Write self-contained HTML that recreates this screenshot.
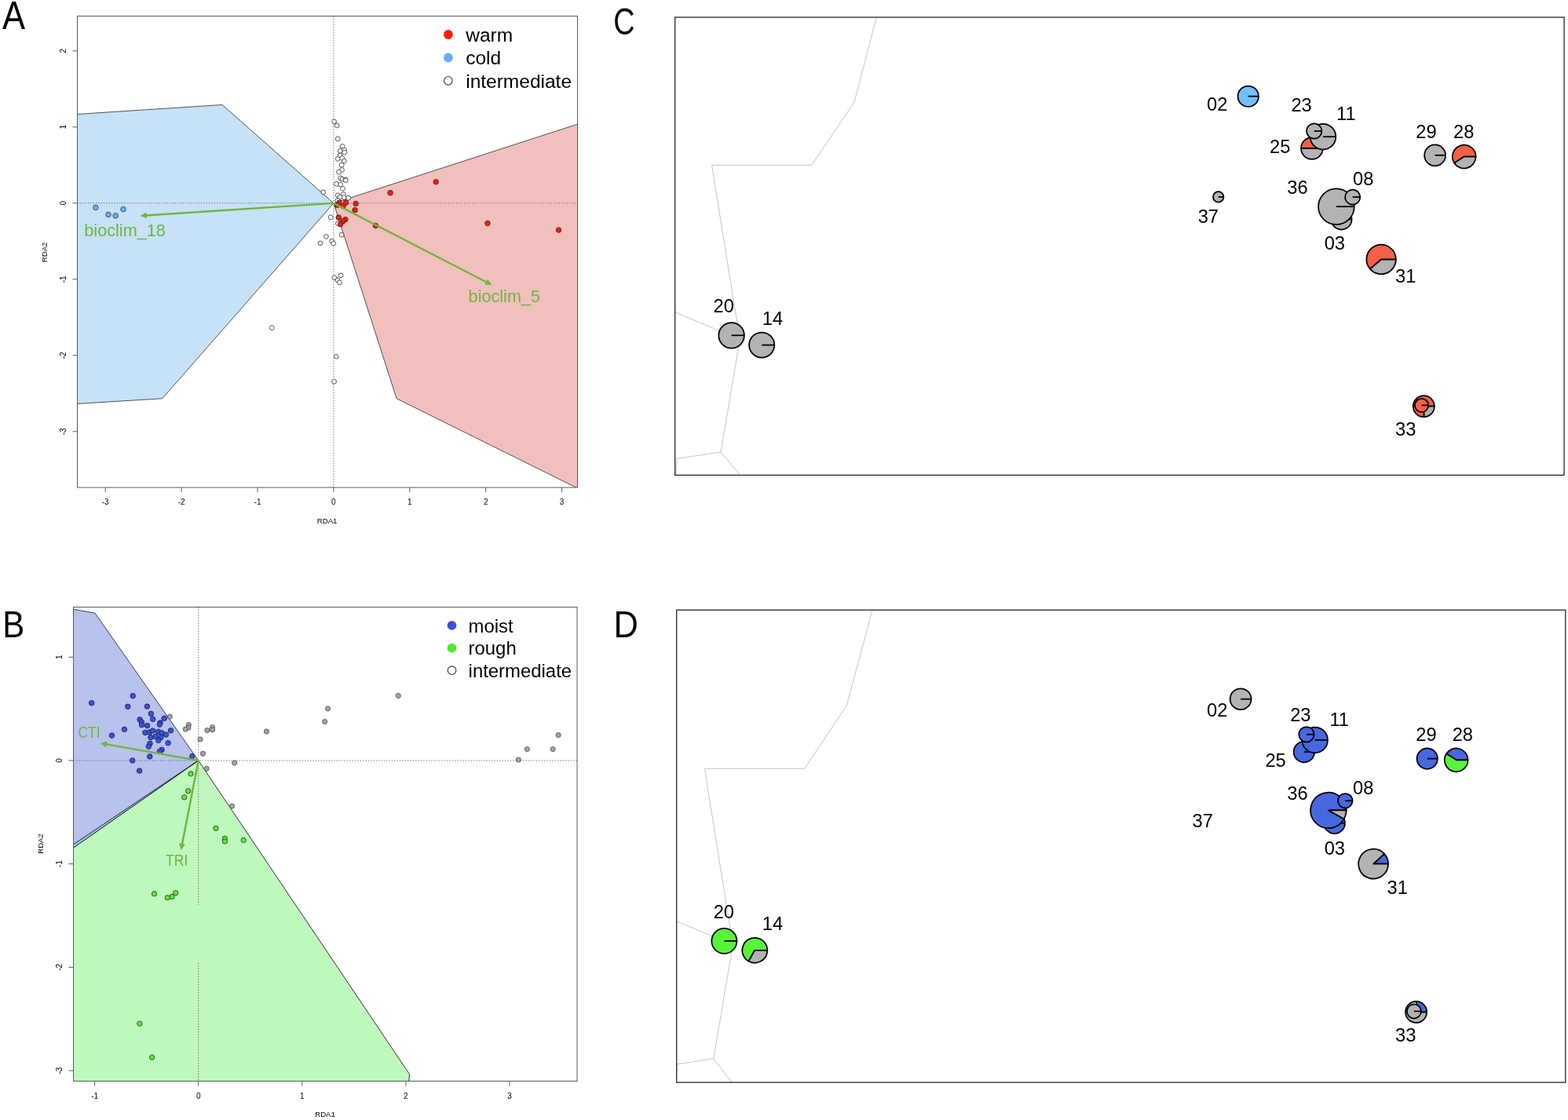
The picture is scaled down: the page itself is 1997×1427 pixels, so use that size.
<!DOCTYPE html>
<html><head><meta charset="utf-8"><title>Figure</title>
<style>
html,body{margin:0;padding:0;background:#fff;}
svg{display:block;}
text{font-family:'Liberation Sans', Arial, Helvetica, sans-serif;}
</style></head>
<body>
<svg width="1997" height="1427" viewBox="0 0 1997 1427">
<rect x="0" y="0" width="1997" height="1427" fill="#fff"/>
<clipPath id="clipA"><rect x="98.5" y="20.5" width="637" height="600.6"/></clipPath>
<g clip-path="url(#clipA)">
<polygon points="40,149.3 283,133.5 424.9,258.9 206.7,507.8 40,518" fill="#c7e2f6" stroke="#2a2a2a" stroke-width="0.8"/>
<polygon points="424.9,258.9 800,137.3 800,654 505.1,507.8" fill="#f1c0bd" stroke="#2a2a2a" stroke-width="0.8"/>
<line x1="98.5" y1="258.8" x2="735.5" y2="258.8" stroke="#6e6e6e" stroke-width="1" stroke-dasharray="1.4,1.95"/>
<line x1="424.9" y1="20.5" x2="424.9" y2="621.1" stroke="#6e6e6e" stroke-width="1" stroke-dasharray="1.4,1.95"/>
<circle cx="425.6" cy="154.9" r="2.9" fill="#fff" stroke="#3a3a3a" stroke-width="0.85"/>
<circle cx="429.2" cy="159.9" r="2.9" fill="#fff" stroke="#3a3a3a" stroke-width="0.85"/>
<circle cx="430.2" cy="176.9" r="2.9" fill="#fff" stroke="#3a3a3a" stroke-width="0.85"/>
<circle cx="436.1" cy="186.4" r="2.9" fill="#fff" stroke="#3a3a3a" stroke-width="0.85"/>
<circle cx="433.3" cy="192.3" r="2.9" fill="#fff" stroke="#3a3a3a" stroke-width="0.85"/>
<circle cx="438.6" cy="191.1" r="2.9" fill="#fff" stroke="#3a3a3a" stroke-width="0.85"/>
<circle cx="438.8" cy="194.2" r="2.9" fill="#fff" stroke="#3a3a3a" stroke-width="0.85"/>
<circle cx="433" cy="198" r="2.9" fill="#fff" stroke="#3a3a3a" stroke-width="0.85"/>
<circle cx="430.2" cy="202.4" r="2.9" fill="#fff" stroke="#3a3a3a" stroke-width="0.85"/>
<circle cx="435.7" cy="201.5" r="2.9" fill="#fff" stroke="#3a3a3a" stroke-width="0.85"/>
<circle cx="438.3" cy="205.2" r="2.9" fill="#fff" stroke="#3a3a3a" stroke-width="0.85"/>
<circle cx="435.2" cy="210.2" r="2.9" fill="#fff" stroke="#3a3a3a" stroke-width="0.85"/>
<circle cx="435.5" cy="216.5" r="2.9" fill="#fff" stroke="#3a3a3a" stroke-width="0.85"/>
<circle cx="431.5" cy="219.1" r="2.9" fill="#fff" stroke="#3a3a3a" stroke-width="0.85"/>
<circle cx="433.6" cy="226.8" r="2.9" fill="#fff" stroke="#3a3a3a" stroke-width="0.85"/>
<circle cx="436.1" cy="228.3" r="2.9" fill="#fff" stroke="#3a3a3a" stroke-width="0.85"/>
<circle cx="439.9" cy="228.9" r="2.9" fill="#fff" stroke="#3a3a3a" stroke-width="0.85"/>
<circle cx="440.2" cy="229.8" r="2.9" fill="#fff" stroke="#3a3a3a" stroke-width="0.85"/>
<circle cx="428.5" cy="234.3" r="2.9" fill="#fff" stroke="#3a3a3a" stroke-width="0.85"/>
<circle cx="433.6" cy="235.2" r="2.9" fill="#fff" stroke="#3a3a3a" stroke-width="0.85"/>
<circle cx="436.5" cy="240.3" r="2.9" fill="#fff" stroke="#3a3a3a" stroke-width="0.85"/>
<circle cx="430.2" cy="248.7" r="2.9" fill="#fff" stroke="#3a3a3a" stroke-width="0.85"/>
<circle cx="437.4" cy="247.6" r="2.9" fill="#fff" stroke="#3a3a3a" stroke-width="0.85"/>
<circle cx="438" cy="251.6" r="2.9" fill="#fff" stroke="#3a3a3a" stroke-width="0.85"/>
<circle cx="443.7" cy="252.2" r="2.9" fill="#fff" stroke="#3a3a3a" stroke-width="0.85"/>
<circle cx="433" cy="251" r="2.9" fill="#fff" stroke="#3a3a3a" stroke-width="0.85"/>
<circle cx="411.8" cy="244.9" r="2.9" fill="#fff" stroke="#3a3a3a" stroke-width="0.85"/>
<circle cx="421.2" cy="276.8" r="2.9" fill="#fff" stroke="#3a3a3a" stroke-width="0.85"/>
<circle cx="430.4" cy="284.8" r="2.9" fill="#fff" stroke="#3a3a3a" stroke-width="0.85"/>
<circle cx="435.1" cy="299.1" r="2.9" fill="#fff" stroke="#3a3a3a" stroke-width="0.85"/>
<circle cx="415.4" cy="301.4" r="2.9" fill="#fff" stroke="#3a3a3a" stroke-width="0.85"/>
<circle cx="408" cy="309.9" r="2.9" fill="#fff" stroke="#3a3a3a" stroke-width="0.85"/>
<circle cx="422.6" cy="307.1" r="2.9" fill="#fff" stroke="#3a3a3a" stroke-width="0.85"/>
<circle cx="424.8" cy="310.2" r="2.9" fill="#fff" stroke="#3a3a3a" stroke-width="0.85"/>
<circle cx="430" cy="255.5" r="2.9" fill="#fff" stroke="#3a3a3a" stroke-width="0.85"/>
<circle cx="425.9" cy="353.8" r="2.9" fill="#fff" stroke="#3a3a3a" stroke-width="0.85"/>
<circle cx="434" cy="350.8" r="2.9" fill="#fff" stroke="#3a3a3a" stroke-width="0.85"/>
<circle cx="430" cy="357" r="2.9" fill="#fff" stroke="#3a3a3a" stroke-width="0.85"/>
<circle cx="432.5" cy="359.9" r="2.9" fill="#fff" stroke="#3a3a3a" stroke-width="0.85"/>
<circle cx="428.3" cy="454.3" r="2.9" fill="#fff" stroke="#3a3a3a" stroke-width="0.85"/>
<circle cx="425.6" cy="486.2" r="2.9" fill="#fff" stroke="#3a3a3a" stroke-width="0.85"/>
<circle cx="346.3" cy="417.6" r="2.9" fill="#fff" stroke="#3a3a3a" stroke-width="0.85"/>
<circle cx="432.1" cy="258.3" r="3.3" fill="#f41d0f" stroke="#3a2020" stroke-width="0.8"/>
<circle cx="440.5" cy="258.2" r="3.3" fill="#f41d0f" stroke="#3a2020" stroke-width="0.8"/>
<circle cx="437" cy="262.6" r="3.3" fill="#f41d0f" stroke="#3a2020" stroke-width="0.8"/>
<circle cx="429.2" cy="261.3" r="3.3" fill="#f41d0f" stroke="#3a2020" stroke-width="0.8"/>
<circle cx="453.1" cy="259.5" r="3.3" fill="#f41d0f" stroke="#3a2020" stroke-width="0.8"/>
<circle cx="452.1" cy="267.7" r="3.3" fill="#f41d0f" stroke="#3a2020" stroke-width="0.8"/>
<circle cx="431.2" cy="277.1" r="3.3" fill="#f41d0f" stroke="#3a2020" stroke-width="0.8"/>
<circle cx="439.9" cy="279.7" r="3.3" fill="#f41d0f" stroke="#3a2020" stroke-width="0.8"/>
<circle cx="436.7" cy="281.9" r="3.3" fill="#f41d0f" stroke="#3a2020" stroke-width="0.8"/>
<circle cx="433.6" cy="285.7" r="3.3" fill="#f41d0f" stroke="#3a2020" stroke-width="0.8"/>
<circle cx="478.4" cy="287.5" r="3.3" fill="#f41d0f" stroke="#3a2020" stroke-width="0.8"/>
<circle cx="497.1" cy="245.7" r="3.3" fill="#f41d0f" stroke="#3a2020" stroke-width="0.8"/>
<circle cx="555.2" cy="231.8" r="3.3" fill="#f41d0f" stroke="#3a2020" stroke-width="0.8"/>
<circle cx="621" cy="284.5" r="3.3" fill="#f41d0f" stroke="#3a2020" stroke-width="0.8"/>
<circle cx="711.5" cy="293.1" r="3.3" fill="#f41d0f" stroke="#3a2020" stroke-width="0.8"/>
<circle cx="121.9" cy="264.4" r="3.3" fill="#69acf5" stroke="#2a3a5a" stroke-width="0.8"/>
<circle cx="138" cy="273.4" r="3.3" fill="#69acf5" stroke="#2a3a5a" stroke-width="0.8"/>
<circle cx="147.2" cy="274.9" r="3.3" fill="#69acf5" stroke="#2a3a5a" stroke-width="0.8"/>
<circle cx="157" cy="266.6" r="3.3" fill="#69acf5" stroke="#2a3a5a" stroke-width="0.8"/>
</g>
<line x1="424.9" y1="258.9" x2="185.68" y2="274.43" stroke="#6fb540" stroke-width="2.4"/><polygon points="178.5,274.9 186.43,270.48 186.94,278.26" fill="#6fb540"/>
<line x1="424.9" y1="258.9" x2="620.1" y2="359.79" stroke="#6fb540" stroke-width="2.4"/><polygon points="626.5,363.1 617.42,362.8 621.01,355.87" fill="#6fb540"/>
<text transform="translate(107.29,300.65) scale(1.0107,1)" font-size="21.45" fill="#6fb540">bioclim_18</text>
<text transform="translate(596.59,384.65) scale(1.0100,1)" font-size="21.45" fill="#6fb540">bioclim_5</text>
<circle cx="570.9" cy="44.0" r="5.9" fill="#ff1c0a"/>
<circle cx="570.9" cy="73.5" r="5.9" fill="#69acff"/>
<circle cx="570.8" cy="102.8" r="5.3" fill="none" stroke="#333" stroke-width="1.1"/>
<text x="593.2" y="52.8" font-size="24.5">warm</text>
<text x="593.2" y="82.2" font-size="24.5">cold</text>
<text x="593.2" y="111.7" font-size="24.5">intermediate</text>
<rect x="98.5" y="20.5" width="637" height="600.6" fill="none" stroke="#5a5a5a" stroke-width="1"/>
<line x1="134.2" y1="621.1" x2="134.2" y2="627.1" stroke="#5a5a5a" stroke-width="1"/>
<text x="134.2" y="643.2" font-size="10" text-anchor="middle">-3</text>
<line x1="231.1" y1="621.1" x2="231.1" y2="627.1" stroke="#5a5a5a" stroke-width="1"/>
<text x="231.1" y="643.2" font-size="10" text-anchor="middle">-2</text>
<line x1="328" y1="621.1" x2="328" y2="627.1" stroke="#5a5a5a" stroke-width="1"/>
<text x="328" y="643.2" font-size="10" text-anchor="middle">-1</text>
<line x1="424.9" y1="621.1" x2="424.9" y2="627.1" stroke="#5a5a5a" stroke-width="1"/>
<text x="424.9" y="643.2" font-size="10" text-anchor="middle">0</text>
<line x1="521.8" y1="621.1" x2="521.8" y2="627.1" stroke="#5a5a5a" stroke-width="1"/>
<text x="521.8" y="643.2" font-size="10" text-anchor="middle">1</text>
<line x1="618.7" y1="621.1" x2="618.7" y2="627.1" stroke="#5a5a5a" stroke-width="1"/>
<text x="618.7" y="643.2" font-size="10" text-anchor="middle">2</text>
<line x1="715.6" y1="621.1" x2="715.6" y2="627.1" stroke="#5a5a5a" stroke-width="1"/>
<text x="715.6" y="643.2" font-size="10" text-anchor="middle">3</text>
<line x1="92.5" y1="549.8" x2="98.5" y2="549.8" stroke="#5a5a5a" stroke-width="1"/>
<text transform="translate(84.1,549.8) rotate(-90)" font-size="10" text-anchor="middle">-3</text>
<line x1="92.5" y1="452.8" x2="98.5" y2="452.8" stroke="#5a5a5a" stroke-width="1"/>
<text transform="translate(84.1,452.8) rotate(-90)" font-size="10" text-anchor="middle">-2</text>
<line x1="92.5" y1="355.8" x2="98.5" y2="355.8" stroke="#5a5a5a" stroke-width="1"/>
<text transform="translate(84.1,355.8) rotate(-90)" font-size="10" text-anchor="middle">-1</text>
<line x1="92.5" y1="258.8" x2="98.5" y2="258.8" stroke="#5a5a5a" stroke-width="1"/>
<text transform="translate(84.1,258.8) rotate(-90)" font-size="10" text-anchor="middle">0</text>
<line x1="92.5" y1="161.8" x2="98.5" y2="161.8" stroke="#5a5a5a" stroke-width="1"/>
<text transform="translate(84.1,161.8) rotate(-90)" font-size="10" text-anchor="middle">1</text>
<line x1="92.5" y1="64.8" x2="98.5" y2="64.8" stroke="#5a5a5a" stroke-width="1"/>
<text transform="translate(84.1,64.8) rotate(-90)" font-size="10" text-anchor="middle">2</text>
<text x="416.6" y="667.2" font-size="9.6" text-anchor="middle">RDA1</text>
<text transform="translate(60.1,321.4) rotate(-90)" font-size="9.6" text-anchor="middle">RDA2</text>
<clipPath id="clipB"><rect x="93.5" y="773.5" width="641.5" height="604"/></clipPath>
<g clip-path="url(#clipB)">
<polygon points="40,766.8 120.9,781.1 252.7,969 40,1112" fill="#b8c2ed" stroke="#1e2a60" stroke-width="0.9"/>
<polygon points="252.7,969 521.5,1368.6 519,1400 40,1400 40,1117.4" fill="#bff8bd" stroke="#1a1a1a" stroke-width="0.9"/>
<polygon points="252.7,969 40,1112 40,1117.4" fill="#9bd0d3" stroke="none"/>
<line x1="252.7" y1="969" x2="40" y2="1112.0" stroke="#1e2a60" stroke-width="0.9"/>
<line x1="252.7" y1="969" x2="40" y2="1117.4" stroke="#1a1a1a" stroke-width="0.9"/>
<line x1="93.5" y1="969" x2="735" y2="969" stroke="#6e6e6e" stroke-width="1" stroke-dasharray="1.4,1.95"/>
<line x1="252.7" y1="773.5" x2="252.7" y2="1153" stroke="#6e6e6e" stroke-width="1" stroke-dasharray="1.4,1.95"/>
<line x1="252.7" y1="1227" x2="252.7" y2="1377.5" stroke="#6e6e6e" stroke-width="1" stroke-dasharray="1.4,1.95"/>
<circle cx="417.5" cy="902.8" r="3.1" fill="#a3a3a3" stroke="#4a4a4a" stroke-width="0.8"/>
<circle cx="413.6" cy="919.5" r="3.1" fill="#a3a3a3" stroke="#4a4a4a" stroke-width="0.8"/>
<circle cx="507.3" cy="886.4" r="3.1" fill="#a3a3a3" stroke="#4a4a4a" stroke-width="0.8"/>
<circle cx="660.3" cy="968" r="3.1" fill="#a3a3a3" stroke="#4a4a4a" stroke-width="0.8"/>
<circle cx="671.4" cy="954.5" r="3.1" fill="#a3a3a3" stroke="#4a4a4a" stroke-width="0.8"/>
<circle cx="704.2" cy="954.5" r="3.1" fill="#a3a3a3" stroke="#4a4a4a" stroke-width="0.8"/>
<circle cx="711.1" cy="936.6" r="3.1" fill="#a3a3a3" stroke="#4a4a4a" stroke-width="0.8"/>
<circle cx="216.3" cy="913.1" r="3.1" fill="#a3a3a3" stroke="#4a4a4a" stroke-width="0.8"/>
<circle cx="240.3" cy="923.6" r="3.1" fill="#a3a3a3" stroke="#4a4a4a" stroke-width="0.8"/>
<circle cx="239.9" cy="927.1" r="3.1" fill="#a3a3a3" stroke="#4a4a4a" stroke-width="0.8"/>
<circle cx="236.2" cy="929" r="3.1" fill="#a3a3a3" stroke="#4a4a4a" stroke-width="0.8"/>
<circle cx="270.5" cy="926.6" r="3.1" fill="#a3a3a3" stroke="#4a4a4a" stroke-width="0.8"/>
<circle cx="270.5" cy="929.8" r="3.1" fill="#a3a3a3" stroke="#4a4a4a" stroke-width="0.8"/>
<circle cx="263.9" cy="930.5" r="3.1" fill="#a3a3a3" stroke="#4a4a4a" stroke-width="0.8"/>
<circle cx="339.4" cy="932" r="3.1" fill="#a3a3a3" stroke="#4a4a4a" stroke-width="0.8"/>
<circle cx="255.1" cy="942" r="3.1" fill="#a3a3a3" stroke="#4a4a4a" stroke-width="0.8"/>
<circle cx="258.5" cy="960.2" r="3.1" fill="#a3a3a3" stroke="#4a4a4a" stroke-width="0.8"/>
<circle cx="298.7" cy="972" r="3.1" fill="#a3a3a3" stroke="#4a4a4a" stroke-width="0.8"/>
<circle cx="263.2" cy="979.3" r="3.1" fill="#a3a3a3" stroke="#4a4a4a" stroke-width="0.8"/>
<circle cx="295.5" cy="1027.1" r="3.1" fill="#a3a3a3" stroke="#4a4a4a" stroke-width="0.8"/>
<circle cx="116.7" cy="895.7" r="3.3" fill="#3c50d7" stroke="#1a1f50" stroke-width="0.8"/>
<circle cx="169.2" cy="886.6" r="3.3" fill="#3c50d7" stroke="#1a1f50" stroke-width="0.8"/>
<circle cx="162.8" cy="900.3" r="3.3" fill="#3c50d7" stroke="#1a1f50" stroke-width="0.8"/>
<circle cx="187.4" cy="900.1" r="3.3" fill="#3c50d7" stroke="#1a1f50" stroke-width="0.8"/>
<circle cx="192.3" cy="909.4" r="3.3" fill="#3c50d7" stroke="#1a1f50" stroke-width="0.8"/>
<circle cx="194.7" cy="916.3" r="3.3" fill="#3c50d7" stroke="#1a1f50" stroke-width="0.8"/>
<circle cx="209.2" cy="915.3" r="3.3" fill="#3c50d7" stroke="#1a1f50" stroke-width="0.8"/>
<circle cx="178.1" cy="916.8" r="3.3" fill="#3c50d7" stroke="#1a1f50" stroke-width="0.8"/>
<circle cx="180.3" cy="920" r="3.3" fill="#3c50d7" stroke="#1a1f50" stroke-width="0.8"/>
<circle cx="180.5" cy="923.6" r="3.3" fill="#3c50d7" stroke="#1a1f50" stroke-width="0.8"/>
<circle cx="187.6" cy="924.6" r="3.3" fill="#3c50d7" stroke="#1a1f50" stroke-width="0.8"/>
<circle cx="204" cy="920.9" r="3.3" fill="#3c50d7" stroke="#1a1f50" stroke-width="0.8"/>
<circle cx="203.3" cy="923.1" r="3.3" fill="#3c50d7" stroke="#1a1f50" stroke-width="0.8"/>
<circle cx="217.5" cy="930.7" r="3.3" fill="#3c50d7" stroke="#1a1f50" stroke-width="0.8"/>
<circle cx="158.4" cy="929.3" r="3.3" fill="#3c50d7" stroke="#1a1f50" stroke-width="0.8"/>
<circle cx="142.5" cy="937.1" r="3.3" fill="#3c50d7" stroke="#1a1f50" stroke-width="0.8"/>
<circle cx="184.9" cy="933.4" r="3.3" fill="#3c50d7" stroke="#1a1f50" stroke-width="0.8"/>
<circle cx="190.3" cy="933" r="3.3" fill="#3c50d7" stroke="#1a1f50" stroke-width="0.8"/>
<circle cx="194.5" cy="931" r="3.3" fill="#3c50d7" stroke="#1a1f50" stroke-width="0.8"/>
<circle cx="201.6" cy="932.2" r="3.3" fill="#3c50d7" stroke="#1a1f50" stroke-width="0.8"/>
<circle cx="206" cy="933.9" r="3.3" fill="#3c50d7" stroke="#1a1f50" stroke-width="0.8"/>
<circle cx="211.4" cy="936.1" r="3.3" fill="#3c50d7" stroke="#1a1f50" stroke-width="0.8"/>
<circle cx="192" cy="939.6" r="3.3" fill="#3c50d7" stroke="#1a1f50" stroke-width="0.8"/>
<circle cx="198.2" cy="938.4" r="3.3" fill="#3c50d7" stroke="#1a1f50" stroke-width="0.8"/>
<circle cx="204.8" cy="939.6" r="3.3" fill="#3c50d7" stroke="#1a1f50" stroke-width="0.8"/>
<circle cx="201.8" cy="943.3" r="3.3" fill="#3c50d7" stroke="#1a1f50" stroke-width="0.8"/>
<circle cx="214.1" cy="946.7" r="3.3" fill="#3c50d7" stroke="#1a1f50" stroke-width="0.8"/>
<circle cx="191" cy="947.4" r="3.3" fill="#3c50d7" stroke="#1a1f50" stroke-width="0.8"/>
<circle cx="189.3" cy="951.1" r="3.3" fill="#3c50d7" stroke="#1a1f50" stroke-width="0.8"/>
<circle cx="206" cy="955.3" r="3.3" fill="#3c50d7" stroke="#1a1f50" stroke-width="0.8"/>
<circle cx="203.3" cy="957.5" r="3.3" fill="#3c50d7" stroke="#1a1f50" stroke-width="0.8"/>
<circle cx="190.8" cy="963.9" r="3.3" fill="#3c50d7" stroke="#1a1f50" stroke-width="0.8"/>
<circle cx="244.8" cy="963.6" r="3.3" fill="#3c50d7" stroke="#1a1f50" stroke-width="0.8"/>
<circle cx="168.7" cy="969" r="3.3" fill="#3c50d7" stroke="#1a1f50" stroke-width="0.8"/>
<circle cx="177.6" cy="982" r="3.3" fill="#3c50d7" stroke="#1a1f50" stroke-width="0.8"/>
<circle cx="243" cy="985.9" r="3.2" fill="#58e83a" stroke="#1e3a1a" stroke-width="0.8"/>
<circle cx="239.6" cy="1007.8" r="3.2" fill="#58e83a" stroke="#1e3a1a" stroke-width="0.8"/>
<circle cx="234.7" cy="1015.9" r="3.2" fill="#58e83a" stroke="#1e3a1a" stroke-width="0.8"/>
<circle cx="274.9" cy="1055.3" r="3.2" fill="#58e83a" stroke="#1e3a1a" stroke-width="0.8"/>
<circle cx="286.4" cy="1068.3" r="3.2" fill="#58e83a" stroke="#1e3a1a" stroke-width="0.8"/>
<circle cx="286.4" cy="1072" r="3.2" fill="#58e83a" stroke="#1e3a1a" stroke-width="0.8"/>
<circle cx="310.2" cy="1070.5" r="3.2" fill="#58e83a" stroke="#1e3a1a" stroke-width="0.8"/>
<circle cx="196.5" cy="1138.8" r="3.2" fill="#58e83a" stroke="#1e3a1a" stroke-width="0.8"/>
<circle cx="213.3" cy="1143.7" r="3.2" fill="#58e83a" stroke="#1e3a1a" stroke-width="0.8"/>
<circle cx="219.1" cy="1142.5" r="3.2" fill="#58e83a" stroke="#1e3a1a" stroke-width="0.8"/>
<circle cx="223.7" cy="1137.6" r="3.2" fill="#58e83a" stroke="#1e3a1a" stroke-width="0.8"/>
<circle cx="177.8" cy="1304.2" r="3.2" fill="#58e83a" stroke="#1e3a1a" stroke-width="0.8"/>
<circle cx="193.6" cy="1347.2" r="3.2" fill="#58e83a" stroke="#1e3a1a" stroke-width="0.8"/>
</g>
<line x1="252.7" y1="969" x2="134.89" y2="948.15" stroke="#6fb540" stroke-width="2.4"/><polygon points="127.8,946.9 136.55,944.49 135.2,952.17" fill="#6fb540"/>
<line x1="252.7" y1="969" x2="231.88" y2="1075.93" stroke="#6fb540" stroke-width="2.4"/><polygon points="230.5,1083 228.24,1074.21 235.9,1075.7" fill="#6fb540"/>
<text transform="translate(99.41,939.7) scale(0.8634,1)" font-size="20.2" fill="#6fb540">CTI</text>
<text transform="translate(211.01,1102.6) scale(0.8759,1)" font-size="20.06" fill="#6fb540">TRI</text>
<circle cx="575.5" cy="796.9" r="5.9" fill="#3c50d7"/>
<circle cx="575.5" cy="825.7" r="5.9" fill="#50e82d"/>
<circle cx="575.5" cy="854.2" r="5.3" fill="none" stroke="#333" stroke-width="1.1"/>
<text x="596.6" y="805.9" font-size="23.9">moist</text>
<text x="596.6" y="834.3" font-size="23.9">rough</text>
<text x="596.6" y="863.1" font-size="23.9">intermediate</text>
<rect x="93.5" y="773.5" width="641.5" height="604" fill="none" stroke="#5a5a5a" stroke-width="1"/>
<line x1="120.6" y1="1377.5" x2="120.6" y2="1383.5" stroke="#5a5a5a" stroke-width="1"/>
<text x="120.6" y="1399.8" font-size="10" text-anchor="middle">-1</text>
<line x1="252.7" y1="1377.5" x2="252.7" y2="1383.5" stroke="#5a5a5a" stroke-width="1"/>
<text x="252.7" y="1399.8" font-size="10" text-anchor="middle">0</text>
<line x1="384.8" y1="1377.5" x2="384.8" y2="1383.5" stroke="#5a5a5a" stroke-width="1"/>
<text x="384.8" y="1399.8" font-size="10" text-anchor="middle">1</text>
<line x1="516.9" y1="1377.5" x2="516.9" y2="1383.5" stroke="#5a5a5a" stroke-width="1"/>
<text x="516.9" y="1399.8" font-size="10" text-anchor="middle">2</text>
<line x1="649" y1="1377.5" x2="649" y2="1383.5" stroke="#5a5a5a" stroke-width="1"/>
<text x="649" y="1399.8" font-size="10" text-anchor="middle">3</text>
<line x1="87.5" y1="1364.1" x2="93.5" y2="1364.1" stroke="#5a5a5a" stroke-width="1"/>
<text transform="translate(79,1364.1) rotate(-90)" font-size="10" text-anchor="middle">-3</text>
<line x1="87.5" y1="1232.4" x2="93.5" y2="1232.4" stroke="#5a5a5a" stroke-width="1"/>
<text transform="translate(79,1232.4) rotate(-90)" font-size="10" text-anchor="middle">-2</text>
<line x1="87.5" y1="1100.7" x2="93.5" y2="1100.7" stroke="#5a5a5a" stroke-width="1"/>
<text transform="translate(79,1100.7) rotate(-90)" font-size="10" text-anchor="middle">-1</text>
<line x1="87.5" y1="969" x2="93.5" y2="969" stroke="#5a5a5a" stroke-width="1"/>
<text transform="translate(79,969) rotate(-90)" font-size="10" text-anchor="middle">0</text>
<line x1="87.5" y1="837.3" x2="93.5" y2="837.3" stroke="#5a5a5a" stroke-width="1"/>
<text transform="translate(79,837.3) rotate(-90)" font-size="10" text-anchor="middle">1</text>
<text x="414" y="1423.3" font-size="9.6" text-anchor="middle">RDA1</text>
<text transform="translate(54.5,1075) rotate(-90)" font-size="9.6" text-anchor="middle">RDA2</text>
<clipPath id="clipC"><rect x="859.7" y="22" width="1132.4" height="583.4"/></clipPath>
<g clip-path="url(#clipC)" fill="none" stroke="#c4c4c4" stroke-width="1">
<polyline points="1116.8,20 1088,130.2 1033.7,210.3 906.5,210.3 942.3,432.6 918,576 862.1,584.3 860.5,610"/>
<polyline points="918,576 946.5,610"/>
<polyline points="855,395.7 942.3,432.6"/>
</g>
<rect x="859.7" y="22" width="1132.4" height="583.4" fill="none" stroke="#1e1e1e" stroke-width="1.25"/>
<circle cx="1589.7" cy="122.7" r="13.2" fill="#74bffb" stroke="#000" stroke-width="1.75"/><line x1="1589.7" y1="122.7" x2="1602.9" y2="122.7" stroke="#000" stroke-width="1.75"/>
<path d="M1670.9,189 L1684.75,189 A13.85,13.85 0 0 0 1657.05,189 Z" fill="#f45f48" stroke="#000" stroke-width="1.75" stroke-linejoin="round"/><path d="M1670.9,189 L1657.05,189 A13.85,13.85 0 0 0 1684.75,189 Z" fill="#b3b3b3" stroke="#000" stroke-width="1.75" stroke-linejoin="round"/>
<circle cx="1685" cy="174.2" r="16.3" fill="#b3b3b3" stroke="#000" stroke-width="1.75"/><line x1="1685" y1="174.2" x2="1701.3" y2="174.2" stroke="#000" stroke-width="1.75"/>
<circle cx="1673.7" cy="167" r="9.65" fill="#b3b3b3" stroke="#000" stroke-width="1.75"/><line x1="1673.7" y1="167" x2="1683.35" y2="167" stroke="#000" stroke-width="1.75"/>
<circle cx="1551.7" cy="250.9" r="6.7" fill="#b3b3b3" stroke="#000" stroke-width="1.75"/><line x1="1551.7" y1="250.9" x2="1558.4" y2="250.9" stroke="#000" stroke-width="1.75"/>
<circle cx="1708.5" cy="279.5" r="13.05" fill="#b3b3b3" stroke="#000" stroke-width="1.75"/><line x1="1708.5" y1="279.5" x2="1721.55" y2="279.5" stroke="#000" stroke-width="1.75"/>
<circle cx="1701.9" cy="263.2" r="22.85" fill="#b3b3b3" stroke="#000" stroke-width="1.75"/><line x1="1701.9" y1="263.2" x2="1724.75" y2="263.2" stroke="#000" stroke-width="1.75"/>
<circle cx="1722.7" cy="251.1" r="9.55" fill="#b3b3b3" stroke="#000" stroke-width="1.75"/><line x1="1722.7" y1="251.1" x2="1732.25" y2="251.1" stroke="#000" stroke-width="1.75"/>
<circle cx="1827.6" cy="197.8" r="13.45" fill="#b3b3b3" stroke="#000" stroke-width="1.75"/><line x1="1827.6" y1="197.8" x2="1841.05" y2="197.8" stroke="#000" stroke-width="1.75"/>
<path d="M1864.7,199.6 L1879.6,199.6 A14.9,14.9 0 1 0 1852.2,207.72 Z" fill="#f45f48" stroke="#000" stroke-width="1.75" stroke-linejoin="round"/><path d="M1864.7,199.6 L1852.2,207.72 A14.9,14.9 0 0 0 1879.6,199.6 Z" fill="#b3b3b3" stroke="#000" stroke-width="1.75" stroke-linejoin="round"/>
<path d="M1759.1,330.5 L1777.85,330.5 A18.75,18.75 0 1 0 1744.88,342.73 Z" fill="#f45f48" stroke="#000" stroke-width="1.75" stroke-linejoin="round"/><path d="M1759.1,330.5 L1744.88,342.73 A18.75,18.75 0 0 0 1777.85,330.5 Z" fill="#b3b3b3" stroke="#000" stroke-width="1.75" stroke-linejoin="round"/>
<path d="M1813.3,517.7 L1826.85,517.7 A13.55,13.55 0 1 0 1813.77,531.24 Z" fill="#f45f48" stroke="#000" stroke-width="1.75" stroke-linejoin="round"/><path d="M1813.3,517.7 L1813.77,531.24 A13.55,13.55 0 0 0 1826.85,517.7 Z" fill="#b3b3b3" stroke="#000" stroke-width="1.75" stroke-linejoin="round"/>
<circle cx="1810.6" cy="516.4" r="8.65" fill="#f45f48" stroke="#000" stroke-width="1.75"/><line x1="1810.6" y1="516.4" x2="1819.25" y2="516.4" stroke="#000" stroke-width="1.75"/>
<circle cx="931.6" cy="427.3" r="16.3" fill="#b3b3b3" stroke="#000" stroke-width="1.75"/><line x1="931.6" y1="427.3" x2="947.9" y2="427.3" stroke="#000" stroke-width="1.75"/>
<circle cx="970.2" cy="439.6" r="16.1" fill="#b3b3b3" stroke="#000" stroke-width="1.75"/><line x1="970.2" y1="439.6" x2="986.3" y2="439.6" stroke="#000" stroke-width="1.75"/>
<text x="1537.05" y="141.06" font-size="23.7">02</text>
<text x="1644.45" y="142.26" font-size="23.7">23</text>
<text x="1702.08" y="152.9" font-size="23.7">11</text>
<text x="1617.03" y="194.86" font-size="23.7">25</text>
<text x="1639.34" y="246.56" font-size="23.7">36</text>
<text x="1723.02" y="236.06" font-size="23.7">08</text>
<text x="1525.66" y="284.16" font-size="23.7">37</text>
<text x="1686.63" y="318.06" font-size="23.7">03</text>
<text x="1803.34" y="175.96" font-size="23.7">29</text>
<text x="1850.99" y="175.96" font-size="23.7">28</text>
<text x="1777.05" y="359.96" font-size="23.7">31</text>
<text x="1777.04" y="555.06" font-size="23.7">33</text>
<text x="908.59" y="397.96" font-size="23.7">20</text>
<text x="970.72" y="414.4" font-size="23.7">14</text>
<clipPath id="clipD"><rect x="861.7" y="777.2" width="1132.1" height="601.9"/></clipPath>
<g clip-path="url(#clipD)" fill="none" stroke="#c4c4c4" stroke-width="1">
<polyline points="1111.6,775 1078.4,898.7 1024.8,979.2 897.3,979.2 933.3,1203.5 908.9,1348.7 862.1,1356 861.5,1385"/>
<polyline points="908.9,1348.7 936.5,1385"/>
<polyline points="855,1171 933.3,1203.5"/>
</g>
<rect x="861.7" y="777.2" width="1132.1" height="601.9" fill="none" stroke="#1e1e1e" stroke-width="1.25"/>
<circle cx="1580.1" cy="890.7" r="13.45" fill="#b3b3b3" stroke="#000" stroke-width="1.75"/><line x1="1580.1" y1="890.7" x2="1593.55" y2="890.7" stroke="#000" stroke-width="1.75"/>
<circle cx="1660.9" cy="958" r="13.25" fill="#4868e0" stroke="#000" stroke-width="1.75"/><line x1="1660.9" y1="958" x2="1674.15" y2="958" stroke="#000" stroke-width="1.75"/>
<circle cx="1674.7" cy="942.9" r="16.3" fill="#4868e0" stroke="#000" stroke-width="1.75"/><line x1="1674.7" y1="942.9" x2="1691" y2="942.9" stroke="#000" stroke-width="1.75"/>
<circle cx="1663.9" cy="935.8" r="9.65" fill="#4868e0" stroke="#000" stroke-width="1.75"/><line x1="1663.9" y1="935.8" x2="1673.55" y2="935.8" stroke="#000" stroke-width="1.75"/>
<circle cx="1699.6" cy="1048.8" r="13.35" fill="#4868e0" stroke="#000" stroke-width="1.75"/><line x1="1699.6" y1="1048.8" x2="1712.95" y2="1048.8" stroke="#000" stroke-width="1.75"/>
<path d="M1691.9,1032.4 L1714.65,1032.4 A22.75,22.75 0 1 0 1711.8,1043.43 Z" fill="#4868e0" stroke="#000" stroke-width="1.75" stroke-linejoin="round"/><path d="M1691.9,1032.4 L1711.8,1043.43 A22.75,22.75 0 0 0 1714.65,1032.4 Z" fill="#b3b3b3" stroke="#000" stroke-width="1.75" stroke-linejoin="round"/>
<circle cx="1713.3" cy="1020.3" r="9.3" fill="#4868e0" stroke="#000" stroke-width="1.75"/><line x1="1713.3" y1="1020.3" x2="1722.6" y2="1020.3" stroke="#000" stroke-width="1.75"/>
<circle cx="1817.7" cy="966.6" r="13.2" fill="#4868e0" stroke="#000" stroke-width="1.75"/><line x1="1817.7" y1="966.6" x2="1830.9" y2="966.6" stroke="#000" stroke-width="1.75"/>
<path d="M1854.7,968.3 L1869.6,968.3 A14.9,14.9 0 0 0 1842.12,960.32 Z" fill="#4868e0" stroke="#000" stroke-width="1.75" stroke-linejoin="round"/><path d="M1854.7,968.3 L1842.12,960.32 A14.9,14.9 0 1 0 1869.6,968.3 Z" fill="#58f43c" stroke="#000" stroke-width="1.75" stroke-linejoin="round"/>
<path d="M1749.1,1100.7 L1768.05,1100.7 A18.95,18.95 0 0 0 1763.07,1087.9 Z" fill="#4868e0" stroke="#000" stroke-width="1.75" stroke-linejoin="round"/><path d="M1749.1,1100.7 L1763.07,1087.9 A18.95,18.95 0 1 0 1768.05,1100.7 Z" fill="#b3b3b3" stroke="#000" stroke-width="1.75" stroke-linejoin="round"/>
<path d="M1803.6,1289.5 L1817.15,1289.5 A13.55,13.55 0 0 0 1804.07,1275.96 Z" fill="#4868e0" stroke="#000" stroke-width="1.75" stroke-linejoin="round"/><path d="M1803.6,1289.5 L1804.07,1275.96 A13.55,13.55 0 1 0 1817.15,1289.5 Z" fill="#b3b3b3" stroke="#000" stroke-width="1.75" stroke-linejoin="round"/>
<circle cx="1800.9" cy="1288.5" r="9" fill="#b3b3b3" stroke="#000" stroke-width="1.75"/><line x1="1800.9" y1="1288.5" x2="1809.9" y2="1288.5" stroke="#000" stroke-width="1.75"/>
<circle cx="922.4" cy="1198.9" r="16.05" fill="#58f43c" stroke="#000" stroke-width="1.75"/><line x1="922.4" y1="1198.9" x2="938.45" y2="1198.9" stroke="#000" stroke-width="1.75"/>
<path d="M961.3,1210.8 L977.3,1210.8 A16,16 0 1 0 953.47,1224.75 Z" fill="#58f43c" stroke="#000" stroke-width="1.75" stroke-linejoin="round"/><path d="M961.3,1210.8 L953.47,1224.75 A16,16 0 0 0 977.3,1210.8 Z" fill="#b3b3b3" stroke="#000" stroke-width="1.75" stroke-linejoin="round"/>
<text x="1537.1" y="913.16" font-size="23.7">02</text>
<text x="1643.15" y="919.26" font-size="23.7">23</text>
<text x="1693.38" y="925.3" font-size="23.7">11</text>
<text x="1611.43" y="977.06" font-size="23.7">25</text>
<text x="1639.34" y="1019.16" font-size="23.7">36</text>
<text x="1723.02" y="1011.66" font-size="23.7">08</text>
<text x="1518.51" y="1053.86" font-size="23.7">37</text>
<text x="1686.63" y="1089.26" font-size="23.7">03</text>
<text x="1803.34" y="943.86" font-size="23.7">29</text>
<text x="1849.69" y="943.86" font-size="23.7">28</text>
<text x="1766.5" y="1138.76" font-size="23.7">31</text>
<text x="1777.04" y="1327.26" font-size="23.7">33</text>
<text x="908.69" y="1170.06" font-size="23.7">20</text>
<text x="970.77" y="1185" font-size="23.7">14</text>
<text transform="translate(2.91,36.8) scale(0.8873,1)" font-size="49.13">A</text>
<text transform="translate(3.22,811.9) scale(0.8641,1)" font-size="48.4">B</text>
<text transform="translate(781.17,43.52) scale(0.7909,1)" font-size="47.74">C</text>
<text transform="translate(781.44,811.7) scale(0.9023,1)" font-size="48.11">D</text>
</svg>
</body></html>
